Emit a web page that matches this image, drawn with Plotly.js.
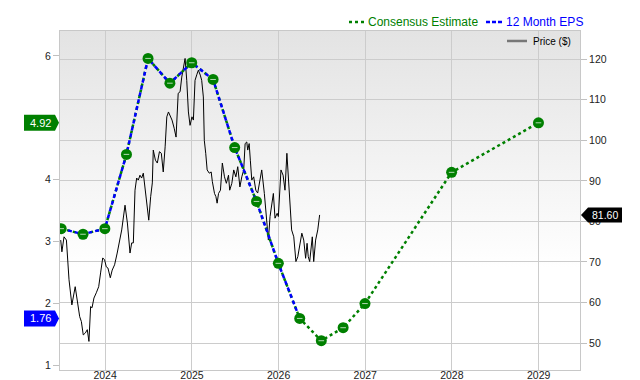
<!DOCTYPE html>
<html><head><meta charset="utf-8">
<script src="https://cdn.plot.ly/plotly-3.0.1.min.js"></script>
<style>html,body{margin:0;padding:0;background:#fff}#chart{width:640px;height:380px}</style>
</head><body><div id="chart"></div>
<script>
// ---- data ----
const epsDates = ['2023-06-30','2023-09-30','2023-12-31','2024-03-31','2024-06-30','2024-09-30','2024-12-31','2025-03-31','2025-06-30','2025-09-30','2025-12-31','2026-03-31'];
const epsValues = [3.21,3.12,3.21,4.41,5.96,5.56,5.89,5.62,4.52,3.65,2.65,1.76];
const estDates = ['2026-06-30','2026-09-30','2026-12-31','2027-12-31','2028-12-31'];
const estValues = [1.40,1.61,2.00,4.12,4.92];
const priceYears = [2023.489,2023.504,2023.527,2023.554,2023.585,2023.619,2023.657,2023.681,2023.708,2023.727,2023.750,2023.773,2023.796,2023.815,2023.835,2023.850,2023.873,2023.900,2023.927,2023.950,2023.973,2023.997,2024.015,2024.035,2024.061,2024.084,2024.112,2024.142,2024.170,2024.193,2024.231,2024.257,2024.288,2024.308,2024.326,2024.346,2024.366,2024.384,2024.404,2024.423,2024.442,2024.461,2024.481,2024.504,2024.527,2024.546,2024.557,2024.580,2024.603,2024.626,2024.649,2024.672,2024.692,2024.712,2024.730,2024.750,2024.773,2024.796,2024.819,2024.842,2024.865,2024.885,2024.903,2024.923,2024.942,2024.961,2024.980,2025.000,2025.018,2025.038,2025.058,2025.076,2025.096,2025.115,2025.134,2025.145,2025.161,2025.176,2025.200,2025.223,2025.238,2025.261,2025.277,2025.292,2025.307,2025.330,2025.353,2025.376,2025.399,2025.422,2025.438,2025.461,2025.484,2025.507,2025.531,2025.554,2025.577,2025.600,2025.615,2025.634,2025.646,2025.661,2025.676,2025.692,2025.715,2025.738,2025.761,2025.776,2025.807,2025.837,2025.865,2025.884,2025.903,2025.923,2025.941,2025.961,2025.984,2025.999,2026.015,2026.030,2026.053,2026.076,2026.096,2026.114,2026.134,2026.153,2026.176,2026.200,2026.223,2026.246,2026.269,2026.292,2026.315,2026.330,2026.345,2026.361,2026.376,2026.391,2026.407,2026.430,2026.453,2026.476];
const priceValues = [75.4,72.5,76.2,75.4,65.6,59.4,63.9,59.9,56.5,55.3,52.0,52.5,53.3,50.4,59.0,58.7,61.1,62.4,63.9,67.3,71.0,70.5,68.8,68.5,66.1,68.0,69.3,72.2,75.4,77.9,84.0,79.6,72.2,74.7,74.7,87.7,90.7,90.2,91.4,90.7,91.9,88.5,83.6,80.3,86.1,89.5,97.6,95.1,94.4,97.2,96.8,92.2,98.4,105.8,107.0,106.2,105.0,103.0,100.8,111.6,112.0,115.6,118.1,120.2,114.8,107.0,103.7,105.8,105.0,114.8,116.3,117.3,116.1,114.8,110.7,100.0,96.8,92.7,91.9,92.2,89.8,86.9,86.1,84.5,86.9,87.7,94.4,91.0,89.4,91.4,87.7,89.4,92.7,91.0,93.5,88.5,91.0,92.7,99.2,99.6,97.6,99.2,95.1,90.2,91.0,87.7,87.0,89.4,92.7,86.9,78.7,75.4,81.2,84.5,86.9,80.8,82.0,81.2,86.9,92.7,91.4,87.7,96.8,90.2,83.6,77.9,76.2,70.1,71.3,74.6,77.1,75.4,70.9,74.6,71.3,70.1,73.8,76.2,70.1,75.4,77.9,81.6];
const yearTicks = ['2024','2025','2026','2027','2028','2029'];
const epsTicks = [1,2,3,4,6];
const priceTicks = [50,60,70,80,90,100,110,120];
const seriesNames = ['Consensus Estimate','12 Month EPS','Price ($)'];

// ---- helpers ----
function yearToDate(y){
  const yr = Math.floor(y);
  const s = Date.UTC(yr,0,1), e = Date.UTC(yr+1,0,1);
  return new Date(s + (y-yr)*(e-s)).toISOString().slice(0,10);
}
const priceDates = priceYears.map(yearToDate);
const allDates = epsDates.concat(estDates);
const allValues = epsValues.concat(estValues);
const GREEN = '#008000', BLUE = '#0000ff';
const FONT = 'Liberation Sans, Arial, sans-serif';
// plot area in pixels: x 60..580, y 31..370.5
const PX = p => (p-60)/520;
const PY = p => (370.5-p)/339.5;

const traces = [
  {x: priceDates, y: priceValues, type:'scatter', mode:'lines', yaxis:'y',
   line:{color:'#000', width:1}, hoverinfo:'skip'},
  {x: allDates, y: allValues, type:'scatter', mode:'lines', yaxis:'y2', name:seriesNames[0],
   line:{color:GREEN, width:2.5, dash:'dot'}},
  {x: epsDates, y: epsValues, type:'scatter', mode:'lines', yaxis:'y2', name:seriesNames[1],
   line:{color:BLUE, width:2.5, dash:'4px,3px'}},
  {x: allDates, y: allValues, type:'scatter', mode:'markers', yaxis:'y2',
   marker:{color:GREEN, size:11}},
  {x: allDates, y: allValues, type:'scatter', mode:'markers', yaxis:'y2',
   marker:{symbol:'line-ew', size:4, line:{color:'rgba(255,255,255,0.7)', width:1}}}
];

const lastEst = estValues[estValues.length-1];
const lastEps = epsValues[epsValues.length-1];
const lastPrice = priceValues[priceValues.length-1];

const bgSvg = '<svg xmlns="http://www.w3.org/2000/svg" width="10" height="100" preserveAspectRatio="none"><defs><linearGradient id="g" x1="0" y1="0" x2="0" y2="1"><stop offset="0" stop-color="#e3e3e3"/><stop offset="0.7" stop-color="#ffffff"/></linearGradient></defs><rect width="10" height="100" fill="url(#g)"/></svg>';

const layout = {
  width:640, height:380,
  margin:{l:60, r:60, t:31, b:9.5},
  paper_bgcolor:'#fff', plot_bgcolor:'rgba(0,0,0,0)',
  font:{family:FONT, size:11, color:'#222'},
  showlegend:false,
  images:[{source:'data:image/svg+xml;charset=utf-8,'+encodeURIComponent(bgSvg),
    xref:'paper', yref:'paper', x:0, y:1, sizex:1, sizey:1, sizing:'stretch', layer:'below'}],
  xaxis:{type:'date', range:['2023-06-25','2029-06-24'],
    tickvals: yearTicks.map(t=>t+'-01-01'), ticktext: yearTicks,
    showgrid:true, gridcolor:'#cccccc', gridwidth:1, ticks:'', showline:true,
    linecolor:'#c8c8c8', mirror:true, zeroline:false, automargin:false,
    ticklabelstandoff:-5, tickfont:{size:10.5, color:'#222'}},
  yaxis:{side:'right', range:[43.35,126.97], tickvals:priceTicks,
    showgrid:true, gridcolor:'#cccccc', ticks:'outside', ticklen:6, tickcolor:'#c0c0c0',
    showline:true, linecolor:'#c8c8c8', mirror:true, zeroline:false, automargin:false,
    tickfont:{size:10.5, color:'#222'}},
  yaxis2:{overlaying:'y', side:'left', range:[0.927,6.403], tickvals:epsTicks,
    showgrid:false, ticks:'outside', ticklen:6, tickcolor:'#c0c0c0', zeroline:false,
    showline:false, automargin:false, tickfont:{size:10.5, color:'#222'}},
  shapes:[
    // legend samples
    {type:'line', xref:'paper', yref:'paper', x0:PX(349), x1:PX(365), y0:PY(22), y1:PY(22),
     line:{color:GREEN, width:2.5, dash:'dot'}},
    {type:'line', xref:'paper', yref:'paper', x0:PX(486), x1:PX(503), y0:PY(22), y1:PY(22),
     line:{color:BLUE, width:2.5, dash:'4px,2px'}},
    {type:'line', xref:'paper', yref:'paper', x0:PX(507), x1:PX(527), y0:PY(41), y1:PY(41),
     line:{color:'#777', width:2.5}},
    // value flags
    {type:'path', xref:'paper', xsizemode:'pixel', xanchor:0, yref:'y2', ysizemode:'pixel', yanchor:lastEst,
     path:'M-36,-8 H-5 L-1,0 L-5,8 H-36 Z', fillcolor:GREEN, line:{width:0}},
    {type:'path', xref:'paper', xsizemode:'pixel', xanchor:0, yref:'y2', ysizemode:'pixel', yanchor:lastEps,
     path:'M-36,-8 H-5 L-1,0 L-5,8 H-36 Z', fillcolor:BLUE, line:{width:0}},
    {type:'path', xref:'paper', xsizemode:'pixel', xanchor:1, yref:'y', ysizemode:'pixel', yanchor:lastPrice,
     path:'M1,0 L8,-7.5 H42 V7.5 H8 Z', fillcolor:'#000', line:{width:0}}
  ],
  annotations:[
    {xref:'paper', yref:'paper', x:PX(365.5), y:PY(22), xanchor:'left', yanchor:'middle', showarrow:false,
     text:seriesNames[0], font:{color:GREEN, size:12}},
    {xref:'paper', yref:'paper', x:PX(503.5), y:PY(22), xanchor:'left', yanchor:'middle', showarrow:false,
     text:seriesNames[1], font:{color:BLUE, size:12}},
    {xref:'paper', yref:'paper', x:PX(531), y:PY(41.5), xanchor:'left', yanchor:'middle', showarrow:false,
     text:seriesNames[2], font:{color:'#000', size:10}},
    {xref:'paper', x:0, xshift:-20, xanchor:'center', yref:'y2', y:lastEst, text:lastEst.toFixed(2), showarrow:false,
     font:{color:'#fff', size:11}},
    {xref:'paper', x:0, xshift:-20, xanchor:'center', yref:'y2', y:lastEps, text:lastEps.toFixed(2), showarrow:false,
     font:{color:'#fff', size:11}},
    {xref:'paper', x:1, xshift:25, xanchor:'center', yref:'y', y:lastPrice, text:lastPrice.toFixed(2), showarrow:false,
     font:{color:'#fff', size:10.5}}
  ]
};

Plotly.newPlot('chart', traces, layout, {displayModeBar:false, staticPlot:true});
</script></body></html>
